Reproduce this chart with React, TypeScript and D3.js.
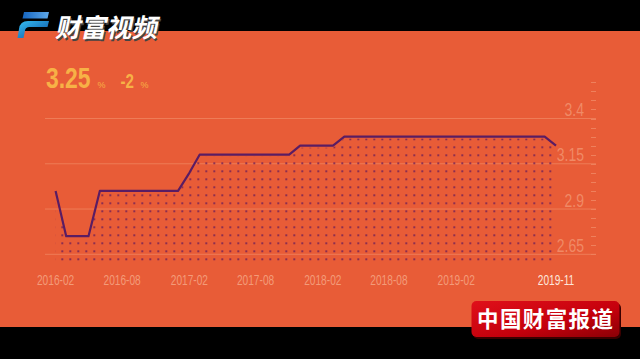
import React, { useRef, useEffect } from 'react';
import * as d3 from 'd3';

// monthly rate, 2016-02 .. 2019-11
const months = [
  '2016-02', '2016-03', '2016-04', '2016-05', '2016-06', '2016-07', '2016-08', '2016-09',
  '2016-10', '2016-11', '2016-12', '2017-01', '2017-02', '2017-03', '2017-04', '2017-05',
  '2017-06', '2017-07', '2017-08', '2017-09', '2017-10', '2017-11', '2017-12', '2018-01',
  '2018-02', '2018-03', '2018-04', '2018-05', '2018-06', '2018-07', '2018-08', '2018-09',
  '2018-10', '2018-11', '2018-12', '2019-01', '2019-02', '2019-03', '2019-04', '2019-05',
  '2019-06', '2019-07', '2019-08', '2019-09', '2019-10', '2019-11',
];
const rates = [
  3.0, 2.75, 2.75, 2.75, 3.0, 3.0, 3.0, 3.0,
  3.0, 3.0, 3.0, 3.0, 3.1, 3.2, 3.2, 3.2,
  3.2, 3.2, 3.2, 3.2, 3.2, 3.2, 3.25, 3.25,
  3.25, 3.25, 3.3, 3.3, 3.3, 3.3, 3.3, 3.3,
  3.3, 3.3, 3.3, 3.3, 3.3, 3.3, 3.3, 3.3,
  3.3, 3.3, 3.3, 3.3, 3.3, 3.25,
];
const xTickLabels = ['2016-02', '2016-08', '2017-02', '2017-08', '2018-02', '2018-08', '2019-02', '2019-11'];
const yGridValues = [2.65, 2.9, 3.15, 3.4];
const headlineValue = '3.25';
const headlineChange = '-2';

const W = 640;
const H = 359;
// condensed look: Liberation Sans squeezed horizontally
const SANS = '"Liberation Sans", Arial, sans-serif';
const CJK = '"Noto Sans CJK SC", "Noto Sans", sans-serif';

const App = () => {
  const svgRef = useRef<SVGSVGElement>(null);

  useEffect(() => {
    const parse = d3.timeParse('%Y-%m');
    const data = months.map((m, i) => ({ date: parse(m) as Date, value: rates[i] }));

    const x = d3.scaleTime()
      .domain([parse('2016-02') as Date, parse('2019-11') as Date])
      .range([55.6, 556]);
    const y = d3.scaleLinear().domain([2.65, 3.4]).range([254.3, 118.5]);

    const svg = d3.select(svgRef.current);
    svg.selectAll('*').remove();

    const defs = svg.append('defs');
    const dots = defs.append('pattern')
      .attr('id', 'dots')
      .attr('patternUnits', 'userSpaceOnUse')
      .attr('x', 58.3).attr('y', 7.3)
      .attr('width', 8).attr('height', 8);
    dots.append('rect')
      .attr('x', 3).attr('y', 3).attr('width', 2).attr('height', 2)
      .attr('fill', '#6e1f56').attr('fill-opacity', 0.75);

    const blue = defs.append('linearGradient').attr('id', 'fblue')
      .attr('x1', 0).attr('y1', 0).attr('x2', 1).attr('y2', 1);
    blue.append('stop').attr('offset', '0%').attr('stop-color', '#35c0f5');
    blue.append('stop').attr('offset', '100%').attr('stop-color', '#0b4a9a');
    const blueTop = defs.append('linearGradient').attr('id', 'fblue2')
      .attr('x1', 0).attr('y1', 0).attr('x2', 1).attr('y2', 0);
    blueTop.append('stop').attr('offset', '0%').attr('stop-color', '#1565c0');
    blueTop.append('stop').attr('offset', '100%').attr('stop-color', '#5fa8e8');
    const red = defs.append('linearGradient').attr('id', 'redbox')
      .attr('x1', 0).attr('y1', 0).attr('x2', 1).attr('y2', 1);
    red.append('stop').attr('offset', '0%').attr('stop-color', '#e0101a');
    red.append('stop').attr('offset', '60%').attr('stop-color', '#c4000c');
    red.append('stop').attr('offset', '100%').attr('stop-color', '#8a0006');

    // background
    svg.append('rect').attr('width', W).attr('height', H).attr('fill', '#e85c37');
    svg.append('rect').attr('width', W).attr('height', 31).attr('fill', '#000');
    svg.append('rect').attr('y', 327).attr('width', W).attr('height', H - 327).attr('fill', '#000');

    // grid
    svg.append('g').selectAll('line')
      .data(yGridValues)
      .join('line')
      .attr('x1', 45).attr('x2', 596)
      .attr('y1', d => y(d)).attr('y2', d => y(d))
      .attr('stroke', '#ee7c57').attr('stroke-width', 1);

    // right minor ticks
    const minor = d3.range(2.65, 3.6001, 0.05);
    svg.append('g').selectAll('line')
      .data(minor)
      .join('line')
      .attr('x1', 591).attr('x2', 596)
      .attr('y1', d => Math.round(y(d)) + 0.5).attr('y2', d => Math.round(y(d)) + 0.5)
      .attr('stroke', '#ef805c').attr('stroke-width', 1);

    svg.append('g').selectAll('text')
      .data(yGridValues)
      .join('text')
      .attr('transform', d => `translate(584,${y(d) - 2.5}) scale(0.8,1)`)
      .attr('text-anchor', 'end')
      .attr('font-family', SANS)
      .attr('font-size', 17.5)
      .attr('fill', '#f08a66')
      .text(d => String(d));

    // dotted area + line
    const baseY = y(2.6);
    const area = d3.area<{ date: Date; value: number }>()
      .x(d => x(d.date)).y0(baseY).y1(d => y(d.value) + 2);
    svg.append('path').datum(data).attr('d', area).attr('fill', 'url(#dots)');

    const line = d3.line<{ date: Date; value: number }>()
      .x(d => x(d.date)).y(d => y(d.value));
    svg.append('path').datum(data)
      .attr('d', line)
      .attr('fill', 'none')
      .attr('stroke', '#5a1c63')
      .attr('stroke-width', 2.2)
      .attr('stroke-linejoin', 'round');

    // x labels
    svg.append('g').selectAll('text')
      .data(xTickLabels)
      .join('text')
      .attr('transform', d => `translate(${x(parse(d) as Date)},284.5) scale(0.66,1)`)
      .attr('text-anchor', 'middle')
      .attr('font-family', SANS)
      .attr('font-size', 15.4)
      .attr('fill', (d, i) => (i === xTickLabels.length - 1 ? '#fde6dc' : '#f39b79'))
      .text(d => d);

    // headline
    const hl = svg.append('g').attr('font-family', SANS).attr('fill', '#f7b146');
    hl.append('text').attr('transform', 'translate(46,88.3) scale(0.79,1)')
      .attr('font-size', 29).attr('font-weight', 'bold').text(headlineValue);
    hl.append('text').attr('x', 97.5).attr('y', 88).attr('font-size', 9).text('%');
    hl.append('text').attr('transform', 'translate(120.5,88.3) scale(0.72,1)')
      .attr('font-size', 21).attr('font-weight', 'bold').text(headlineChange);
    hl.append('text').attr('x', 140.5).attr('y', 88).attr('font-size', 9).text('%');

    // top-left logo
    const logo = svg.append('g');
    logo.append('path').attr('d', 'M24,12 L49,12 L47.5,18.5 L22.5,18.5 Z').attr('fill', 'url(#fblue2)');
    logo.append('path')
      .attr('d', 'M49,21 L28,21 Q20,21 19,29 L17.5,38 L23.5,38 L25,30.5 Q25.5,27 29.5,27 L47.5,27 Z')
      .attr('fill', 'url(#fblue)');
    logo.append('text')
      .attr('transform', 'translate(55,37) skewX(-12)')
      .attr('font-family', CJK).attr('font-weight', 'bold').attr('font-size', 25.5)
      .attr('fill', '#444').attr('dx', 1.5).attr('dy', 1.5)
      .text('财富视频');
    logo.append('text')
      .attr('transform', 'translate(55,37) skewX(-12)')
      .attr('font-family', CJK).attr('font-weight', 'bold').attr('font-size', 25.5)
      .attr('fill', '#fff')
      .text('财富视频');

    // bottom-right badge
    const badge = svg.append('g');
    badge.append('rect').attr('x', 473).attr('y', 303).attr('width', 148).attr('height', 36).attr('rx', 5).attr('fill', '#3a0000');
    badge.append('rect').attr('x', 471.5).attr('y', 301).attr('width', 148).attr('height', 36).attr('rx', 5).attr('fill', 'url(#redbox)');
    badge.append('text')
      .attr('x', 477).attr('y', 327)
      .attr('font-family', CJK).attr('font-weight', 'bold').attr('font-size', 21.5)
      .attr('letter-spacing', 1.4)
      .attr('fill', '#fff')
      .text('中国财富报道');
  }, []);

  return (
    <div style={{ position: 'absolute', left: 0, top: 0 }}>
      <svg ref={svgRef} width={W} height={H} style={{ display: 'block' }}></svg>
    </div>
  );
};

export default App;
